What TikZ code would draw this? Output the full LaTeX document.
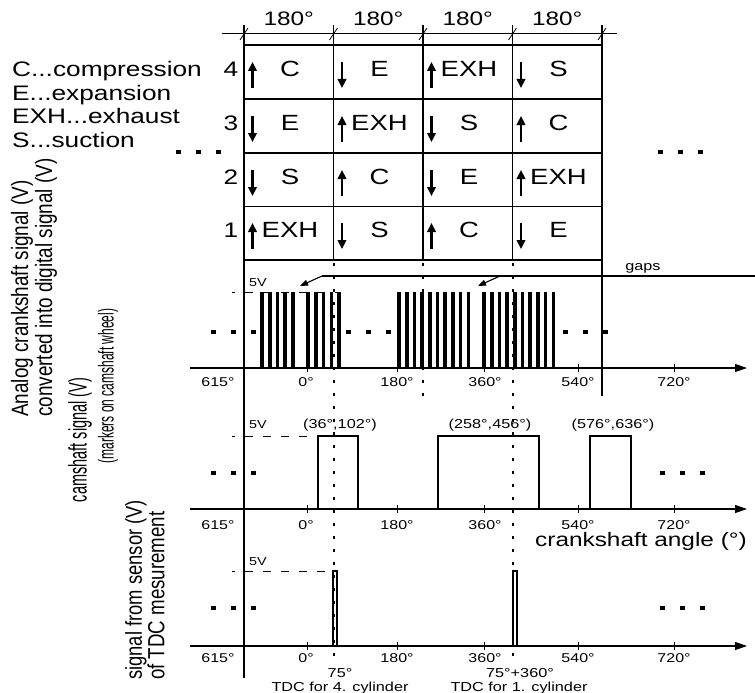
\documentclass[tikz,border=0pt]{standalone}
\usepackage{fontspec}
\setmainfont[FakeStretch=1.25]{Liberation Sans}
\newfontfamily\plainsans{Liberation Sans}
\usetikzlibrary{arrows.meta}
\begin{document}
\begin{tikzpicture}[x=1pt,y=-1pt,
  lab/.style={inner sep=0pt, text height=0.72em, text depth=0pt},
  fs/.style={font=\fontsize{#1}{#1}\selectfont},
  grid/.style={line width=1.1pt},
  stroke/.style={line width=2.2pt,-{Triangle[length=9pt,width=8.5pt]}},
  axis/.style={line width=1.2pt,-{Triangle[length=12pt,width=8pt]}},
  dotv/.style={line width=2pt,dash pattern=on 3pt off 10pt},
  fivev/.style={line width=0.9pt,dash pattern=on 8pt off 10pt,dash phase=5pt},
  pulse/.style={line width=2pt},
  rot/.style={rotate=90,inner sep=0pt,anchor=west}
]
\useasboundingbox (0,0) rectangle (755,693);

% ---- dimension line and header
\draw[line width=1pt] (222,34) -- (617,34);
\foreach \x in {244,333.5,423,512.5,602} \draw[line width=0.8pt] (\x-4,40) -- (\x+4,28);
\foreach \x [count=\i] in {288.75,378.25,467.75,557.25}
  \node[lab,fs=19.5] (h\i) at (\x,22) {180°};

% ---- table
\foreach \y in {45,99,153,206.5,260} \draw[grid] (244,\y) -- (602,\y);
\foreach \x in {333.5,423,512.5} \draw[grid] (\x,25) -- (\x,260);
\draw[grid] (244,25) -- (244,678);
\draw[grid] (602,25) -- (602,396);

\foreach \n/\cy in {4/72,3/126,2/180,1/233}
  \node[lab,fs=21] (row\n) at (231,\cy+1) {\n};

\foreach \cx/\cy/\a/\b/\t [count=\i] in {
 244/72/16/-10/C, 333.5/72/-10/16/E, 423/72/16/-10/EXH, 512.5/72/-10/16/S,
 244/126/-10/16/E, 333.5/126/16/-10/EXH, 423/126/-10/16/S, 512.5/126/16/-10/C,
 244/180/-10/16/S, 333.5/180/16/-10/C, 423/180/-10/16/E, 512.5/180/16/-10/EXH,
 244/233/16/-10/EXH, 333.5/233/-10/16/S, 423/233/16/-10/C, 512.5/233/-10/16/E}
{
  \draw[stroke] ({\cx+8.5},{\cy+\a}) -- ({\cx+8.5},{\cy+\b});
  \node[lab,fs=22] (cell\i) at ({\cx+46},{\cy+1}) {\t};
}

% ---- legend
\node[lab,fs=21,anchor=west] (lg1) at (12,73) {C...compression};
\node[lab,fs=21,anchor=west] (lg2) at (12,96.5) {E...expansion};
\node[lab,fs=21,anchor=west] (lg3) at (12,120) {EXH...exhaust};
\node[lab,fs=21,anchor=west] (lg4) at (12,143.5) {S...suction};

% ---- continuation dots
\foreach \x/\y in {178/152,198/152,218/152,660/152,680/152,700/152,
                   213/332,233/332,253/332,348/332,368/332,388/332,565/332,585/332,605/332,
                   213/473,233/473,253/473,662/473,682/473,702/473,
                   213/608,233/608,253/608,662/608,682/608,702/608}
  \fill ({\x-2.5},{\y-2}) rectangle ({\x+2.5},{\y+2});

% ---- dotted verticals
\draw[dotv] (333.5,263) -- (333.5,666);
\draw[dotv] (512.5,263) -- (512.5,666);
\draw[dotv] (423,263) -- (423,398);

% ---- crankshaft signal
\foreach \k in {0,1,2,3,4,6,7,8,9,10}
  \fill ({262+7.7*\k-1.8},292) rectangle ({262+7.7*\k+1.8},368);
\foreach \k in {0,...,9}
  \fill ({399+7.7*\k-1.8},292) rectangle ({399+7.7*\k+1.8},368);
\foreach \k in {0,...,9}
  \fill ({484+7.7*\k-1.8},292) rectangle ({484+7.7*\k+1.8},368);
\draw[fivev] (232,292) -- (340,292);
\node[lab,fs=11.5] (v1) at (258,283) {5V};
\draw[line width=1.1pt] (322,276) -- (755,276);
\draw[line width=1.1pt,-{Triangle[length=8pt,width=6pt]}] (322,276) -- (300,286);
\draw[line width=1.1pt,-{Triangle[length=8pt,width=6pt]}] (500,276) -- (478,286);
\node[lab,fs=13] (gaps) at (643,267) {gaps};

% ---- axes, ticks, tick labels
\foreach \y/\ly [count=\j] in {368/383,509/526,646/659} {
  \draw[axis] (190,\y) -- (747,\y);
  \foreach \x in {307,397,484,578,674} \draw[line width=1pt] (\x,\y-4) -- (\x,\y+4);
  \foreach \x/\t [count=\i] in {218/615°,306/0°,397/180°,485/360°,578/540°,674/720°}
    \node[lab,fs=12.8] (tk\j\i) at (\x,\ly) {\t};
}

% ---- camshaft signal
\draw[fivev] (232,436) -- (318,436);
\node[lab,fs=11.5] (v2) at (258,425) {5V};
\draw[pulse] (318,509) -- (318,436) -- (358,436) -- (358,509);
\draw[pulse] (438,509) -- (438,436) -- (539,436) -- (539,509);
\draw[pulse] (590,509) -- (590,436) -- (631,436) -- (631,509);
\node[lab,fs=13] (m1) at (340,425) {(36°,102°)};
\node[lab,fs=13] (m2) at (490,425) {(258°,456°)};
\node[lab,fs=13] (m3) at (613,425) {(576°,636°)};
\node[lab,fs=19.5] (xlab) at (641,543) {crankshaft angle (°)};

% ---- TDC signal
\draw[fivev] (232,571) -- (333,571);
\node[lab,fs=11.5] (v3) at (258,562) {5V};
\draw[pulse] (333.2,646) rectangle (336.6,571);
\draw[pulse] (513.3,646) rectangle (516.7,571);
\node[lab,fs=13] (b1) at (340,674) {75°};
\node[lab,fs=13] (b2) at (520,674) {75°+360°};
\node[lab,fs=13] (b3) at (340,687.5) {TDC for 4. cylinder};
\node[lab,fs=13] (b4) at (519,687.5) {TDC for 1. cylinder};

% ---- rotated axis titles
\node[rot] (y1) at (22,417) {\plainsans\fontsize{18.9}{18.9}\selectfont\scalebox{1}[1.25]{Analog crankshaft signal (V)}};
\node[rot] (y2) at (46,417) {\plainsans\fontsize{18.9}{18.9}\selectfont\scalebox{1}[1.25]{converted into digital signal (V)}};
\node[rotate=90,inner sep=0pt] (y3) at (80,440) {\plainsans\fontsize{14.5}{14.5}\selectfont\scalebox{1}[1.75]{camshaft signal (V)}};
\node[rotate=90,inner sep=0pt] (y4) at (108,386) {\plainsans\fontsize{12}{12}\selectfont\scalebox{1}[1.8]{(markers on camshaft wheel)}};
\node[rot] (y5) at (136,680) {\plainsans\fontsize{18.4}{18.4}\selectfont\scalebox{1}[1.25]{signal from sensor (V)}};
\node[rot] (y6) at (156,680) {\plainsans\fontsize{18.7}{18.7}\selectfont\scalebox{1}[1.25]{of TDC mesurement}};
\end{tikzpicture}
\end{document}
